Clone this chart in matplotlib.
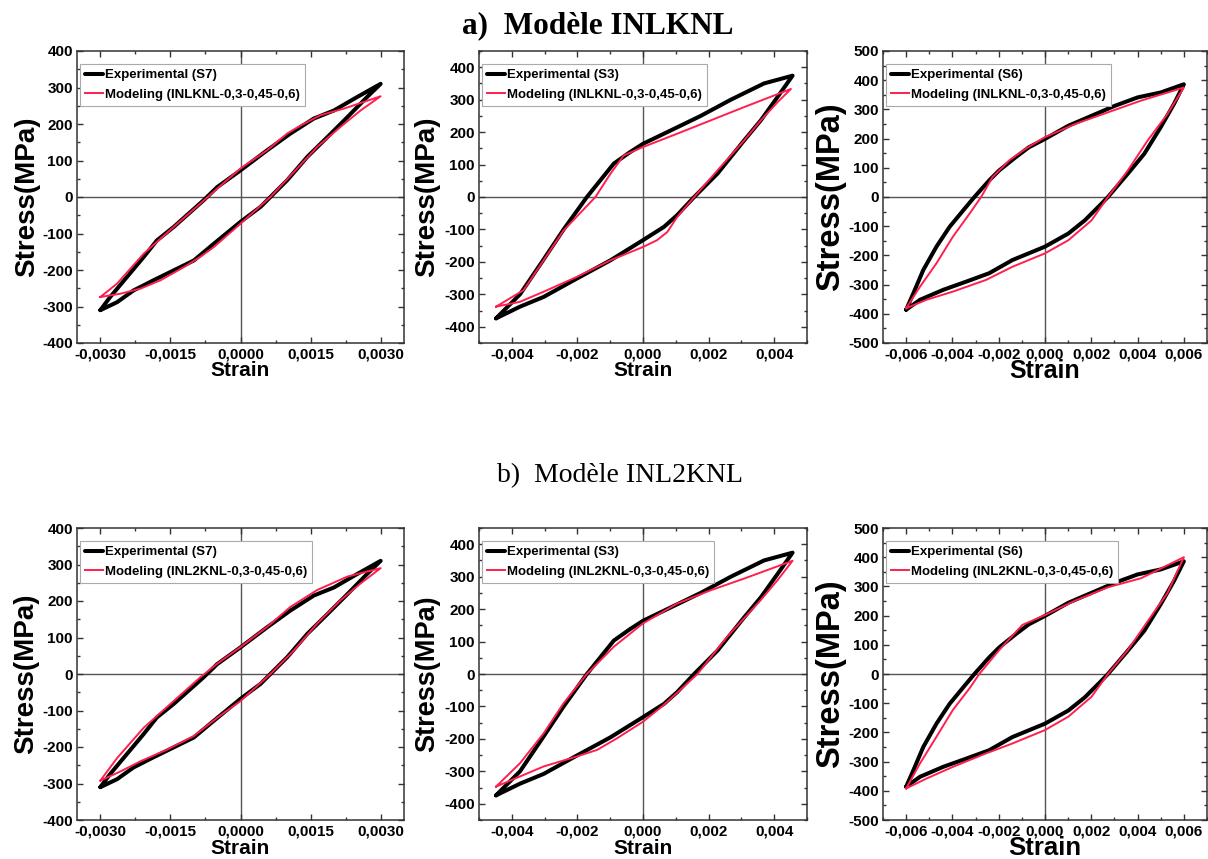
import matplotlib
matplotlib.use("Agg")
import matplotlib.pyplot as plt
from matplotlib.ticker import AutoMinorLocator

# ---- data (strain, stress in MPa), closed loops ----
# experimental loops (same test in both rows)
s7_exp_strain = [-0.003, -0.00264, -0.00229, -0.00186, -0.00143, -0.001, -0.00057, 0.0, 0.00043, 0.00064,
                 0.001, 0.00143, 0.00186, 0.00229, 0.00271, 0.003,
                 0.00243, 0.002, 0.00157, 0.00107, 0.00057, 0.0, -0.0005, -0.00079, -0.00107, -0.00143,
                 -0.00179, -0.00207, -0.00243, -0.00279, -0.003]
s7_exp_stress = [-310, -288, -256, -228, -201, -174, -128, -68, -27, 0,
                 46, 110, 164, 219, 274, 310,
                 269, 237, 215, 174, 128, 73, 27, -9, -41, -82,
                 -119, -164, -219, -274, -310]

s3_exp_strain = [-0.00448, -0.00375, -0.00303, -0.00201, -0.00099, 0.0, 0.00064, 0.00104, 0.00156, 0.00227,
                 0.00308, 0.00359, 0.0041, 0.00456,
                 0.00369, 0.00268, 0.00176, 0.00074, 0.0, -0.0004, -0.00089, -0.00171, -0.00242, -0.00308,
                 -0.00375, -0.00448]
s3_exp_stress = [-374, -338, -308, -251, -195, -133, -92, -56, 0, 72,
                 174, 236, 308, 374,
                 350, 300, 250, 200, 164, 138, 103, 0, -100, -200,
                 -300, -374]

s6_exp_strain = [-0.006, -0.0054, -0.0044, -0.00341, -0.00241, -0.00141, 0.0, 0.00101, 0.00172, 0.00244,
                 0.00272, 0.00358, 0.00429, 0.005, 0.00557, 0.006,
                 0.005, 0.004, 0.00301, 0.00201, 0.00101, 0.0, -0.0007, -0.00127, -0.00198, -0.00241,
                 -0.00305, -0.00341, -0.00412, -0.00469, -0.00526, -0.00569, -0.006]
s6_exp_stress = [-386, -352, -318, -290, -261, -216, -170, -125, -80, -23,
                 0, 80, 148, 239, 318, 386,
                 358, 341, 312, 278, 244, 199, 170, 136, 91, 57,
                 0, -34, -102, -170, -250, -330, -386]

# modele INLKNL
inlknl_s7_strain = [-0.003, -0.00257, -0.00214, -0.00171, -0.00121, -0.00086, -0.00057, 0.0, 0.00064, 0.00114,
                    0.00164, 0.00214, 0.00257, 0.003,
                    0.00221, 0.00171, 0.00129, 0.001, 0.00057, 0.0, -0.0005, -0.00086, -0.00143, -0.00207,
                    -0.00264, -0.003]
inlknl_s7_stress = [-274, -265, -251, -228, -192, -164, -137, -73, 0, 68,
                    137, 192, 237, 276,
                    242, 224, 196, 174, 128, 78, 23, -18, -82, -155,
                    -237, -274]

inlknl_s3_strain = [-0.00448, -0.00375, -0.00303, -0.00201, -0.00099, 0.0, 0.00043, 0.00074, 0.00104, 0.00156,
                    0.00227, 0.00308, 0.00359, 0.0041, 0.00451,
                    0.00308, 0.00206, 0.00104, 0.0, -0.00059, -0.00099, -0.00145, -0.00242, -0.00303, -0.00364,
                    -0.00448]
inlknl_s3_stress = [-338, -323, -292, -246, -195, -154, -133, -108, -62, 0,
                    82, 174, 236, 292, 333,
                    277, 236, 195, 154, 128, 72, 0, -103, -195, -287,
                    -338]

inlknl_s6_strain = [-0.006, -0.00512, -0.00398, -0.00255, -0.00141, 0.0, 0.00101, 0.00201, 0.00272, 0.00358,
                    0.00443, 0.00529, 0.006,
                    0.00415, 0.00272, 0.0013, 0.0, -0.00084, -0.00155, -0.00227, -0.00276, -0.00326, -0.00398,
                    -0.00469, -0.0054, -0.006]
inlknl_s6_stress = [-381, -352, -324, -284, -239, -193, -148, -80, 0, 91,
                    193, 284, 375,
                    330, 290, 250, 205, 165, 125, 68, 0, -57, -136,
                    -227, -307, -381]

# modele INL2KNL
inl2knl_s7_strain = [-0.003, -0.00257, -0.00214, -0.00157, -0.001, -0.0005, 0.0, 0.00064, 0.00114, 0.00164,
                     0.00214, 0.00257, 0.003,
                     0.00229, 0.00164, 0.00107, 0.00057, 0.0, -0.0005, -0.00086, -0.00143, -0.00207, -0.00264,
                     -0.003]
inl2knl_s7_stress = [-292, -267, -239, -207, -170, -120, -74, 0, 64, 138,
                     202, 248, 290,
                     267, 230, 184, 129, 74, 28, -9, -74, -147, -230,
                     -292]

inl2knl_s3_strain = [-0.00448, -0.00303, -0.00201, -0.0014, -0.00079, 0.0, 0.00064, 0.00166, 0.00257, 0.00359,
                     0.0041, 0.00456,
                     0.00308, 0.00206, 0.00104, 0.0, -0.00089, -0.00171, -0.00242, -0.00303, -0.00375, -0.00448]
inl2knl_s3_stress = [-347, -285, -254, -234, -198, -147, -95, 0, 115, 228,
                     289, 349,
                     294, 258, 217, 156, 84, 0, -90, -183, -275, -347]

inl2knl_s6_strain = [-0.006, -0.00512, -0.00398, -0.00255, -0.00141, 0.0, 0.00101, 0.00201, 0.00272, 0.00358,
                     0.00458, 0.00529, 0.006,
                     0.00415, 0.00272, 0.0013, 0.0, -0.00098, -0.00198, -0.00284, -0.00326, -0.00398, -0.00469,
                     -0.0054, -0.006]
inl2knl_s6_stress = [-392, -358, -318, -272, -238, -192, -146, -78, 0, 82,
                     197, 277, 400,
                     328, 297, 251, 202, 168, 82, 0, -49, -123, -215,
                     -306, -392]

# ticks
xticks_s7 = [-0.003, -0.0015, 0.0, 0.0015, 0.003]
xlabels_s7 = ['-0,0030', '-0,0015', '0,0000', '0,0015', '0,0030']
xticks_s3 = [-0.004, -0.002, 0.0, 0.002, 0.004]
xlabels_s3 = ['-0,004', '-0,002', '0,000', '0,002', '0,004']
xticks_s6 = [-0.006, -0.004, -0.002, 0.0, 0.002, 0.004, 0.006]
xlabels_s6 = ['-0,006', '-0,004', '-0,002', '0,000', '0,002', '0,004', '0,006']
yticks_400 = [-400, -300, -200, -100, 0, 100, 200, 300, 400]
yticks_500 = [-500, -400, -300, -200, -100, 0, 100, 200, 300, 400, 500]

EXP_COLOR = 'black'
MOD_COLOR = '#ff1f4f'
SANS = 'Liberation Sans'
SERIF = 'Liberation Serif'

W, H = 1208, 859


def panel(fig, box, exp, mod, exp_label, mod_label, xlim, ylim, xticks, xlabels, yticks,
          ylab_size, xlab_size, ylab_x):
    left, top, right, bottom = box
    ax = fig.add_axes([left / W, 1 - bottom / H, (right - left) / W, (bottom - top) / H])

    # zero lines
    ax.axhline(0, color='#555555', lw=1, zorder=1)
    ax.axvline(0, color='#555555', lw=1, zorder=1)

    ax.plot(exp[0], exp[1], color=EXP_COLOR, lw=2.9, label=exp_label, zorder=2,
            solid_joinstyle='round', solid_capstyle='round')
    ax.plot(mod[0], mod[1], color=MOD_COLOR, lw=1.4, label=mod_label, zorder=3,
            solid_joinstyle='round')

    ax.set_xlim(xlim)
    ax.set_ylim(ylim)
    ax.set_xticks(xticks)
    ax.set_xticklabels(xlabels)
    ax.set_yticks(yticks)
    ax.set_yticklabels([str(v) for v in yticks])
    ax.xaxis.set_minor_locator(AutoMinorLocator(2))
    ax.yaxis.set_minor_locator(AutoMinorLocator(2))
    ax.tick_params(which='both', direction='in', top=True, right=True, width=1, color='#333333')
    ax.tick_params(which='major', length=4, pad=3)
    ax.tick_params(which='minor', length=2.5)
    for lab in ax.get_xticklabels() + ax.get_yticklabels():
        lab.set_fontfamily(SANS)
        lab.set_fontweight('bold')
        lab.set_fontsize(11)
    for sp in ax.spines.values():
        sp.set_color('#333333')
        sp.set_linewidth(1.1)

    # axis titles placed by hand like the original
    ax.text((ylab_x - left) / (right - left), 0.5, 'Stress(MPa)', transform=ax.transAxes,
            rotation=90, ha='center', va='center', fontsize=ylab_size, fontweight='bold', family=SANS)
    ax.text(0.5, -28 / (bottom - top), 'Strain', transform=ax.transAxes,
            ha='center', va='center', fontsize=xlab_size, fontweight='bold', family=SANS)

    leg = ax.legend(loc='upper left', bbox_to_anchor=(0.0, 0.965), borderaxespad=0.2,
                    prop={'family': SANS, 'weight': 'bold', 'size': 9.5},
                    handlelength=1.4, handletextpad=0.1, labelspacing=0.55,
                    fancybox=False, framealpha=1, borderpad=0.4)
    leg.get_frame().set_edgecolor('#aaaaaa')
    leg.get_frame().set_linewidth(0.8)
    return ax


fig = plt.figure(figsize=(W / 100, H / 100), dpi=100)

fig.text(598 / W, 1 - 26 / H, 'a)  Modèle INLKNL', ha='center', va='center',
         fontsize=22.5, fontweight='bold', family=SERIF)
fig.text(620 / W, 1 - 476 / H, 'b)  Modèle INL2KNL', ha='center', va='center',
         fontsize=20, family=SERIF)

cols = [(77, 404), (479, 807), (883, 1207)]
rows = [(51, 343), (528, 820)]

# top row : INLKNL
t, b = rows[0]
panel(fig, (cols[0][0], t, cols[0][1], b), (s7_exp_strain, s7_exp_stress), (inlknl_s7_strain, inlknl_s7_stress),
      'Experimental (S7)', 'Modeling (INLKNL-0,3-0,45-0,6)', (-0.0035, 0.0035), (-400, 400),
      xticks_s7, xlabels_s7, yticks_400, 20, 15, 27)
panel(fig, (cols[1][0], t, cols[1][1], b), (s3_exp_strain, s3_exp_stress), (inlknl_s3_strain, inlknl_s3_stress),
      'Experimental (S3)', 'Modeling (INLKNL-0,3-0,45-0,6)', (-0.005, 0.005), (-450, 450),
      xticks_s3, xlabels_s3, yticks_400, 20, 15, 427)
panel(fig, (cols[2][0], t, cols[2][1], b), (s6_exp_strain, s6_exp_stress), (inlknl_s6_strain, inlknl_s6_stress),
      'Experimental (S6)', 'Modeling (INLKNL-0,3-0,45-0,6)', (-0.007, 0.007), (-500, 500),
      xticks_s6, xlabels_s6, yticks_500, 23.5, 18, 831)

# bottom row : INL2KNL
t, b = rows[1]
panel(fig, (cols[0][0], t, cols[0][1], b), (s7_exp_strain, s7_exp_stress), (inl2knl_s7_strain, inl2knl_s7_stress),
      'Experimental (S7)', 'Modeling (INL2KNL-0,3-0,45-0,6)', (-0.0035, 0.0035), (-400, 400),
      xticks_s7, xlabels_s7, yticks_400, 20, 15, 26)
panel(fig, (cols[1][0], t, cols[1][1], b), (s3_exp_strain, s3_exp_stress), (inl2knl_s3_strain, inl2knl_s3_stress),
      'Experimental (S3)', 'Modeling (INL2KNL-0,3-0,45-0,6)', (-0.005, 0.005), (-450, 450),
      xticks_s3, xlabels_s3, yticks_400, 19.5, 15, 427)
panel(fig, (cols[2][0], t, cols[2][1], b), (s6_exp_strain, s6_exp_stress), (inl2knl_s6_strain, inl2knl_s6_stress),
      'Experimental (S6)', 'Modeling (INL2KNL-0,3-0,45-0,6)', (-0.007, 0.007), (-500, 500),
      xticks_s6, xlabels_s6, yticks_500, 23.5, 18.5, 831)

fig.savefig('out.png', dpi=100)
